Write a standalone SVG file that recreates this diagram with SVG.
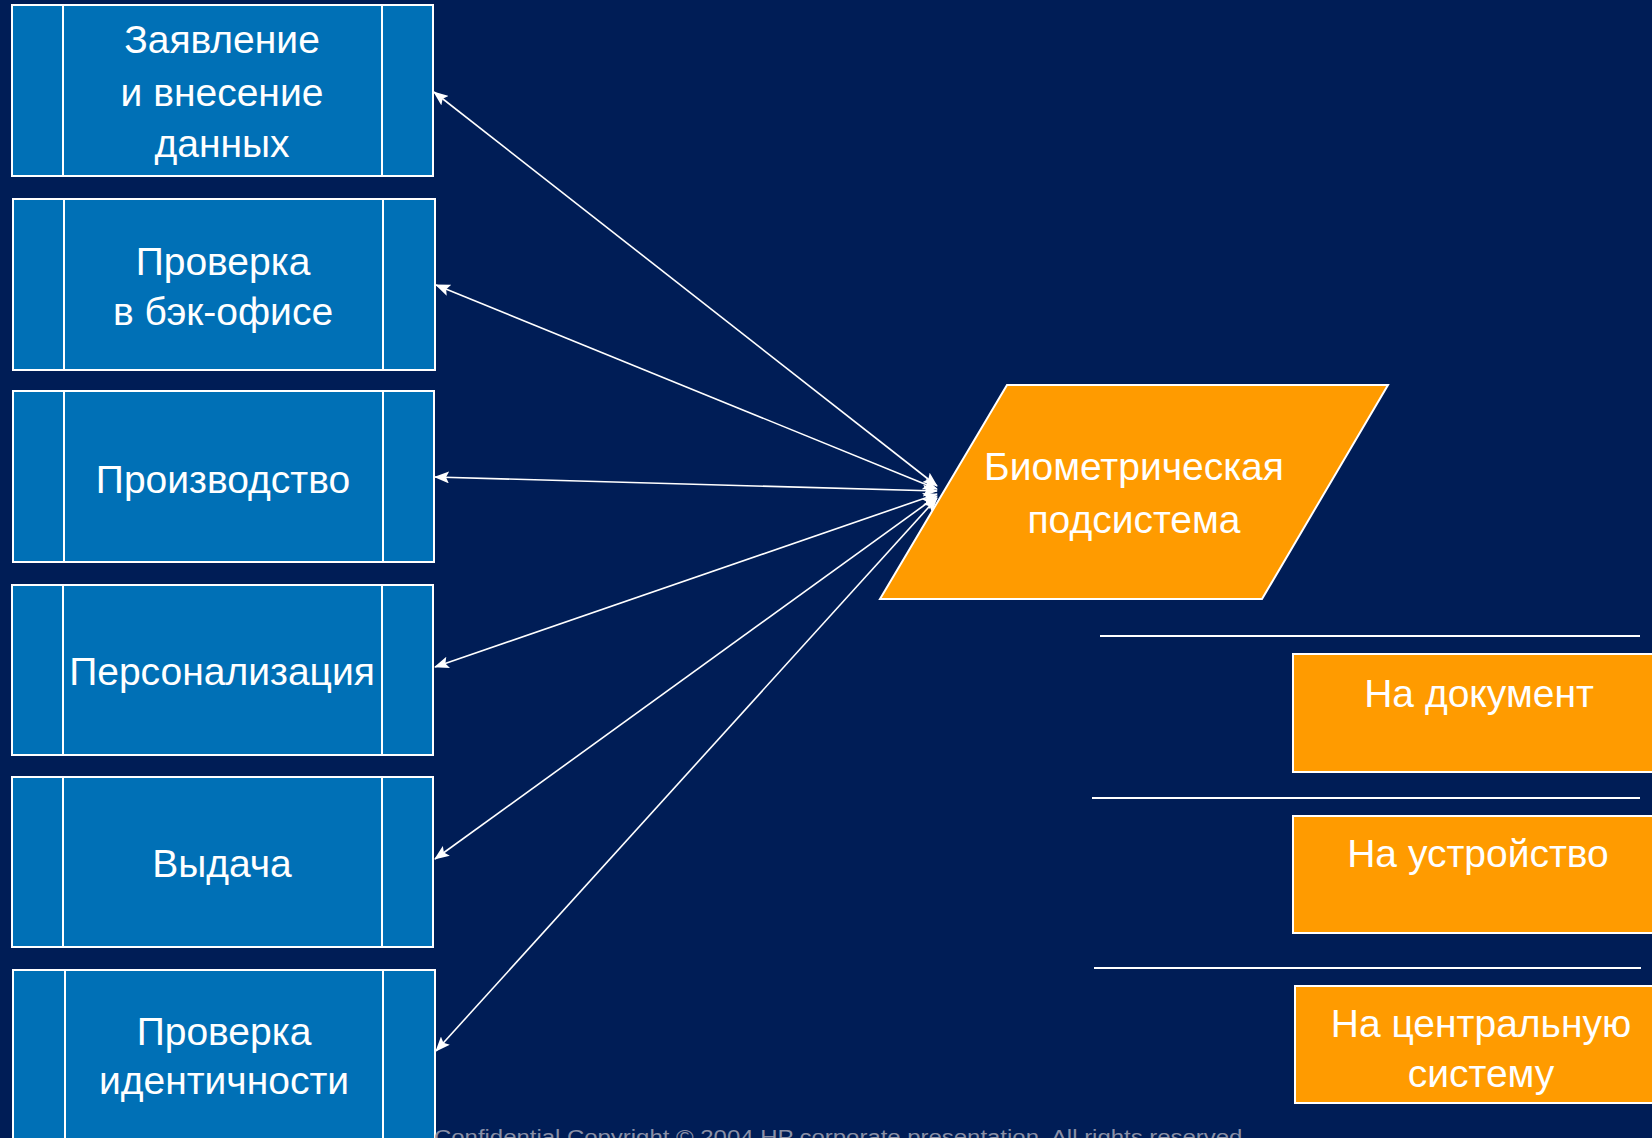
<svg xmlns="http://www.w3.org/2000/svg" width="1652" height="1138" viewBox="0 0 1652 1138">
<defs>
<style>
.bg{fill:#001D56}
.box{fill:#0070B6;stroke:#FFFFFF;stroke-width:2}
.div{stroke:#FFFFFF;stroke-width:2}
.org{fill:#FF9B00;stroke:#FFFFFF;stroke-width:2}
.t{font-family:"Liberation Sans",Arial,sans-serif;font-size:39px;fill:#FFFFFF;text-anchor:middle}
.con{stroke:#FFFFFF;stroke-width:1.6;fill:none;marker-start:url(#ah);marker-end:url(#ah)}
.sep{stroke:#FFFFFF;stroke-width:2}
.foot{font-family:"Liberation Sans",Arial,sans-serif;font-size:20px;fill:#8A90A6}
</style>
<marker id="ah" viewBox="0 0 15 12" refX="14" refY="6" markerWidth="15" markerHeight="12" markerUnits="userSpaceOnUse" orient="auto-start-reverse">
<path d="M0,0 L15,6 L0,12 L3,6 z" fill="#FFFFFF"/>
</marker>
</defs>
<rect class="bg" x="0" y="0" width="1652" height="1138"/>

<g id="connectors">
<line class="con" x1="937" y1="486" x2="434" y2="92"/>
<line class="con" x1="937" y1="489" x2="436" y2="285"/>
<line class="con" x1="937" y1="491" x2="435" y2="477"/>
<line class="con" x1="937" y1="494" x2="435" y2="667"/>
<line class="con" x1="937" y1="496" x2="435" y2="859"/>
<line class="con" x1="937" y1="498" x2="436" y2="1051"/>
</g>

<g id="n1">
<rect class="box" x="12" y="5" width="421" height="171"/>
<line class="div" x1="63" y1="5" x2="63" y2="176"/>
<line class="div" x1="382" y1="5" x2="382" y2="176"/>
<text class="t" x="222" y="53">Заявление</text>
<text class="t" x="222" y="106">и внесение</text>
<text class="t" x="222" y="157">данных</text>
</g>
<g id="n2">
<rect class="box" x="13" y="199" width="422" height="171"/>
<line class="div" x1="64" y1="199" x2="64" y2="370"/>
<line class="div" x1="383" y1="199" x2="383" y2="370"/>
<text class="t" x="223" y="275">Проверка</text>
<text class="t" x="223" y="325">в бэк-офисе</text>
</g>
<g id="n3">
<rect class="box" x="13" y="391" width="421" height="171"/>
<line class="div" x1="64" y1="391" x2="64" y2="562"/>
<line class="div" x1="383" y1="391" x2="383" y2="562"/>
<text class="t" x="223" y="493">Производство</text>
</g>
<g id="n4">
<rect class="box" x="12" y="585" width="421" height="170"/>
<line class="div" x1="63" y1="585" x2="63" y2="755"/>
<line class="div" x1="382" y1="585" x2="382" y2="755"/>
<text class="t" x="222" y="685">Персонализация</text>
</g>
<g id="n5">
<rect class="box" x="12" y="777" width="421" height="170"/>
<line class="div" x1="63" y1="777" x2="63" y2="947"/>
<line class="div" x1="382" y1="777" x2="382" y2="947"/>
<text class="t" x="222" y="877">Выдача</text>
</g>
<g id="n6">
<rect class="box" x="13" y="970" width="422" height="190"/>
<line class="div" x1="65" y1="970" x2="65" y2="1160"/>
<line class="div" x1="383" y1="970" x2="383" y2="1160"/>
<text class="t" x="224" y="1045">Проверка</text>
<text class="t" x="224" y="1094">идентичности</text>
</g>

<g id="bio">
<polygon class="org" points="1007,385 1388,385 1262,599 880,599"/>
<text class="t" x="1134" y="480">Биометрическая</text>
<text class="t" x="1134" y="533">подсистема</text>
</g>

<g id="separators">
<line class="sep" x1="1100" y1="636" x2="1640" y2="636"/>
<line class="sep" x1="1092" y1="798" x2="1640" y2="798"/>
<line class="sep" x1="1094" y1="968" x2="1641" y2="968"/>
</g>

<g id="o1">
<rect class="org" x="1293" y="654" width="380" height="118"/>
<text class="t" x="1479" y="707">На документ</text>
</g>
<g id="o2">
<rect class="org" x="1293" y="816" width="380" height="117"/>
<text class="t" x="1478" y="867">На устройство</text>
</g>
<g id="o3">
<rect class="org" x="1295" y="986" width="380" height="117"/>
<text class="t" x="1481" y="1037">На центральную</text>
<text class="t" x="1481" y="1087">систему</text>
</g>

<text class="foot" x="434" y="1144" textLength="815" lengthAdjust="spacingAndGlyphs">Confidential   Copyright © 2004 HP corporate presentation. All rights reserved.</text>
</svg>
